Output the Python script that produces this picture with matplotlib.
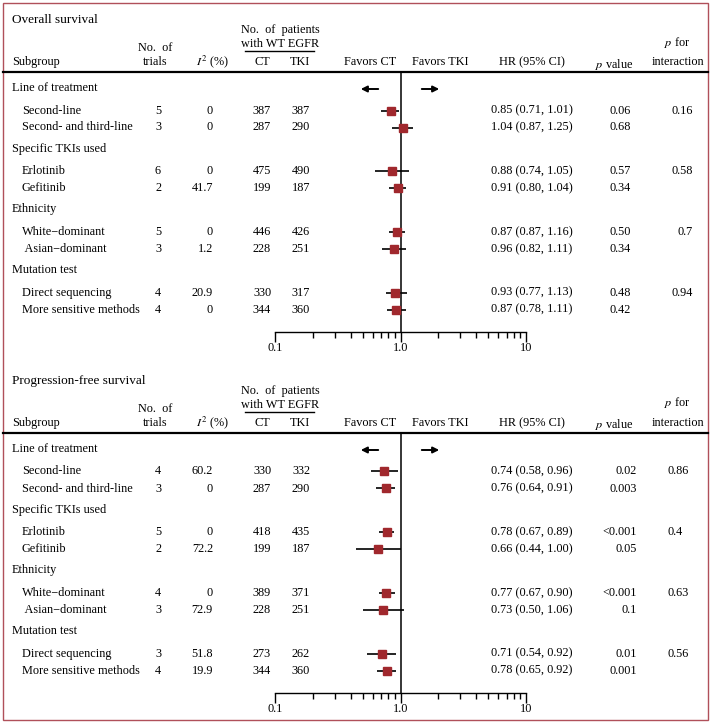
import numpy as np
import matplotlib.pyplot as plt
from matplotlib.patches import Rectangle

plt.rcParams['font.family'] = ['Liberation Serif', 'DejaVu Serif']
plt.rcParams['mathtext.fontset'] = 'stix'

# ---- data ----
groups = ["Line of treatment", "Specific TKIs used", "Ethnicity", "Mutation test"]
subgroups = ["Second-line", "Second- and third-line",
             "Erlotinib", "Gefitinib",
             "White\u2212dominant", " Asian\u2212dominant",
             "Direct sequencing", "More sensitive methods"]

# overall survival
os_trials = [5, 3, 6, 2, 5, 3, 4, 4]
os_i2 = ["0", "0", "0", "41.7", "0", "1.2", "20.9", "0"]
os_ct = [387, 287, 475, 199, 446, 228, 330, 344]
os_tki = [387, 290, 490, 187, 426, 251, 317, 360]
os_hr_txt = ["0.85 (0.71, 1.01)", "1.04 (0.87, 1.25)", "0.88 (0.74, 1.05)", "0.91 (0.80, 1.04)",
             "0.87 (0.87, 1.16)", "0.96 (0.82, 1.11)", "0.93 (0.77, 1.13)", "0.87 (0.78, 1.11)"]
os_p = ["0.06", "0.68", "0.57", "0.34", "0.50", "0.34", "0.48", "0.42"]
os_pint = ["0.16", "0.58", "0.7", "0.94"]
# positions as drawn in the picture
os_hr = [0.84, 1.04, 0.85, 0.95, 0.935, 0.89, 0.91, 0.92]
os_lo = [0.70, 0.86, 0.63, 0.81, 0.81, 0.71, 0.76, 0.775]
os_hi = [0.98, 1.25, 1.16, 1.10, 1.09, 1.10, 1.12, 1.10]

# progression-free survival
pfs_trials = [4, 3, 5, 2, 4, 3, 3, 4]
pfs_i2 = ["60.2", "0", "0", "72.2", "0", "72.9", "51.8", "19.9"]
pfs_ct = [330, 287, 418, 199, 389, 228, 273, 344]
pfs_tki = [332, 290, 435, 187, 371, 251, 262, 360]
pfs_hr_txt = ["0.74 (0.58, 0.96)", "0.76 (0.64, 0.91)", "0.78 (0.67, 0.89)", "0.66 (0.44, 1.00)",
              "0.77 (0.67, 0.90)", "0.73 (0.50, 1.06)", "0.71 (0.54, 0.92)", "0.78 (0.65, 0.92)"]
pfs_p = ["0.02", "0.003", "<0.001", "0.05", "<0.001", "0.1", "0.01", "0.001"]
pfs_pint = ["0.86", "0.4", "0.63", "0.56"]
pfs_hr = [0.74, 0.76, 0.78, 0.66, 0.77, 0.73, 0.71, 0.78]
pfs_lo = [0.58, 0.64, 0.67, 0.44, 0.67, 0.50, 0.54, 0.65]
pfs_hi = [0.96, 0.91, 0.89, 1.00, 0.90, 1.06, 0.92, 0.92]

W, H = 712, 724
fig = plt.figure(figsize=(W / 100, H / 100), dpi=100)
bg = fig.add_axes([0, 0, 1, 1])
bg.set_xlim(0, W)
bg.set_ylim(H, 0)
bg.axis('off')

FS = 8.8
MARK = '#a0282d'

bg.add_patch(Rectangle((3, 3), W - 7, H - 7, fill=False, ec='#b0505a', lw=1.0))


def panel(y0, title, trials, i2, ct, tki, hr_txt, pv, pint, hr, lo, hi, p_ha, p_x, pi_ha, pi_x):
    # header
    bg.text(12, y0 + 20, title, fontsize=9.5, va='center')
    bg.text(280, y0 + 30, "No.  of  patients", fontsize=FS, ha='center', va='center')
    bg.text(280, y0 + 44, "with WT EGFR", fontsize=FS, ha='center', va='center')
    bg.plot([245, 314], [y0 + 51, y0 + 51], color='k', lw=1.0)
    bg.text(155, y0 + 48, "No.  of", fontsize=FS, ha='center', va='center')
    hy = y0 + 62
    bg.text(12, hy, "Subgroup", fontsize=FS, va='center')
    bg.text(155, hy, "trials", fontsize=FS, ha='center', va='center')
    bg.text(212, hy, r"$I^2$ (%)", fontsize=FS, ha='center', va='center')
    bg.text(262, hy, "CT", fontsize=FS, ha='center', va='center')
    bg.text(300, hy, "TKI", fontsize=FS, ha='center', va='center')
    bg.text(370, hy, "Favors CT", fontsize=FS, ha='center', va='center')
    bg.text(440, hy, "Favors TKI", fontsize=FS, ha='center', va='center')
    bg.text(532, hy, "HR (95% CI)", fontsize=FS, ha='center', va='center')
    bg.text(614, hy + 2, r"$p$ value", fontsize=FS, ha='center', va='center')
    bg.text(677, y0 + 42, r"$p$ for", fontsize=FS, ha='center', va='center')
    bg.text(678, hy, "interaction", fontsize=FS, ha='center', va='center')
    bg.plot([3, W - 4], [y0 + 72, y0 + 72], color='k', lw=1.6)

    # arrows
    bg.annotate("", xy=(358, y0 + 89), xytext=(381, y0 + 89),
                arrowprops=dict(arrowstyle='-|>', color='k', lw=1.4, mutation_scale=9))
    bg.annotate("", xy=(442, y0 + 89), xytext=(419, y0 + 89),
                arrowprops=dict(arrowstyle='-|>', color='k', lw=1.4, mutation_scale=9))

    ys = []
    for g, name in enumerate(groups):
        gy = y0 + 88 + 60.7 * g
        bg.text(12, gy, name, fontsize=FS, va='center')
        ys += [gy + 22.5, gy + 39.5]
        bg.text(pi_x, gy + 22.5, pint[g], fontsize=FS, ha=pi_ha, va='center')
    for i, y in enumerate(ys):
        bg.text(22, y, subgroups[i], fontsize=FS, va='center')
        bg.text(158, y, str(trials[i]), fontsize=FS, ha='center', va='center')
        bg.text(213, y, i2[i], fontsize=FS, ha='right', va='center')
        bg.text(262, y, str(ct[i]), fontsize=FS, ha='center', va='center')
        bg.text(301, y, str(tki[i]), fontsize=FS, ha='center', va='center')
        bg.text(532, y, hr_txt[i], fontsize=FS, ha='center', va='center')
        bg.text(p_x, y, pv[i], fontsize=FS, ha=p_ha, va='center')

    # forest axis
    top, bot = y0 + 72, y0 + 332
    ax = fig.add_axes([275 / W, 1 - bot / H, 251 / W, (bot - top) / H])
    ax.set_xscale('log')
    ax.set_xlim(0.1, 10)
    ax.set_ylim(bot, top)
    ax.patch.set_alpha(0)
    for s in ['left', 'right', 'top']:
        ax.spines[s].set_visible(False)
    ax.spines['bottom'].set_linewidth(1.0)
    ax.set_yticks([])
    ax.set_xticks([0.1, 1, 10])
    ax.set_xticklabels(["0.1", "1.0", "10"], fontsize=FS)
    ax.set_xticks([k * 0.1 for k in range(2, 10)] + list(range(2, 10)), minor=True)
    ax.xaxis.set_minor_formatter(plt.NullFormatter())
    ax.tick_params(axis='x', which='major', direction='out', length=7, width=1.0, pad=0.5)
    ax.tick_params(axis='x', which='minor', direction='out', length=4.5, width=1.0)
    ax.axvline(1, color='k', lw=1.1, zorder=1)
    ax.hlines(ys, lo, hi, color='k', lw=1.2, zorder=2)
    ax.plot(hr, ys, 's', color=MARK, ms=6, zorder=3, clip_on=False)


panel(0, "Overall survival", os_trials, os_i2, os_ct, os_tki, os_hr_txt, os_p, os_pint,
      os_hr, os_lo, os_hi, 'right', 631, 'right', 693)
panel(361, "Progression-free survival", pfs_trials, pfs_i2, pfs_ct, pfs_tki, pfs_hr_txt, pfs_p, pfs_pint,
      pfs_hr, pfs_lo, pfs_hi, 'right', 637, 'left', 668)

fig.savefig("out.png", dpi=100)
